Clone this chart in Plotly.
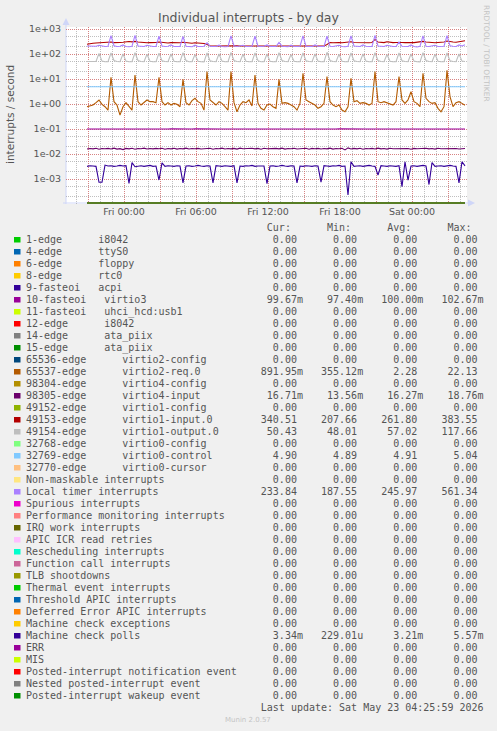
import pandas as pd
import plotly.graph_objects as go

# ---------------- data ----------------
TIMES = [t.strftime("%Y-%m-%d %H:%M") for t in
         pd.date_range("2026-05-21 20:55", periods=127, freq="15min")]
ZERO_TIMES = ["2026-05-21 20:55", "2026-05-23 04:25"]
ZERO_VALUES = [0.0, 0.0]

VIRTIO3 = [
    0.1000, 0.0995, 0.1002, 0.0998, 0.1010, 0.0999, 0.0996, 0.1001,
    0.1005, 0.0998, 0.1000, 0.0994, 0.1008, 0.0999, 0.1001, 0.0997,
    0.1006, 0.0999, 0.1002, 0.0996, 0.1009, 0.1000, 0.0998, 0.1001,
    0.1004, 0.0997, 0.1000, 0.0995, 0.1010, 0.0999, 0.1002, 0.0998,
    0.1005, 0.0998, 0.1001, 0.0996, 0.1008, 0.1000, 0.0997, 0.1000,
    0.1004, 0.0999, 0.1001, 0.0995, 0.1009, 0.0998, 0.1002, 0.0999,
    0.1006, 0.0997, 0.1000, 0.0996, 0.1010, 0.0999, 0.1001, 0.0998,
    0.1005, 0.0999, 0.1002, 0.0995, 0.1008, 0.1000, 0.0998, 0.1001,
    0.1004, 0.0998, 0.1000, 0.0996, 0.1009, 0.0999, 0.1002, 0.0997,
    0.1006, 0.0999, 0.1001, 0.0995, 0.1010, 0.0998, 0.1000, 0.0999,
    0.1005, 0.0997, 0.1002, 0.0996, 0.1008, 0.1000, 0.0998, 0.1001,
    0.1004, 0.0999, 0.1000, 0.0995, 0.1009, 0.0999, 0.1002, 0.0998,
    0.1006, 0.0998, 0.1001, 0.0996, 0.1010, 0.1000, 0.0997, 0.1000,
    0.1005, 0.0999, 0.1002, 0.0995, 0.1008, 0.0998, 0.1001, 0.0999,
    0.1004, 0.0997, 0.1000, 0.0996, 0.1009, 0.1000, 0.0998, 0.1001,
    0.1006, 0.0999, 0.1002, 0.0995, 0.1027, 0.0999, 0.09967,
]

VIRTIO2_REQ0 = [
    0.78, 0.83, 0.91, 1.13, 1.45, 0.97, 0.78, 0.57,
    11.7, 1.24, 0.91, 0.36, 0.78, 1.13, 0.83, 0.57,
    14.4, 1.24, 0.91, 1.13, 1.45, 1.24, 1.24, 1.13,
    11.7, 1.24, 0.91, 1.13, 0.91, 1.06, 0.97, 0.78,
    9.7, 1.13, 0.91, 1.36, 1.69, 1.24, 1.06, 0.57,
    19.7, 1.45, 1.13, 0.91, 1.24, 1.06, 0.78, 0.57,
    19.7, 1.13, 0.49, 0.91, 1.24, 1.13, 1.45, 0.83,
    14.4, 1.06, 0.67, 0.57, 0.91, 1.00, 0.78, 0.67,
    9.7, 1.06, 1.13, 1.06, 0.91, 0.78, 0.57, 1.06,
    16.9, 1.45, 1.24, 1.06, 0.91, 0.67, 0.78, 1.06,
    12.4, 1.24, 0.91, 0.78, 0.91, 0.57, 0.49, 0.78,
    10.6, 1.24, 1.36, 1.06, 1.13, 1.06, 0.91, 1.06,
    19.7, 1.24, 1.13, 1.24, 1.13, 1.06, 0.91, 1.24,
    12.4, 1.45, 1.06, 1.45, 3.10, 1.24, 1.06, 0.78,
    16.9, 1.69, 1.24, 1.06, 1.13, 0.67, 0.49, 0.78,
    22.13, 1.97, 0.78, 1.13, 1.24, 1.06, 0.892,
]

VIRTIO4_INPUT = [
    0.0158, 0.0166, 0.0160, 0.0170, 0.0155, 0.0165, 0.0162, 0.0168,
    0.0159, 0.0171, 0.0157, 0.0164, 0.0150, 0.0167, 0.0161, 0.0169,
    0.0156, 0.0166, 0.0163, 0.0172, 0.0158, 0.0165, 0.0160, 0.0168,
    0.0162, 0.0170, 0.0155, 0.0166, 0.0161, 0.0169, 0.0157, 0.0165,
    0.0160, 0.0171, 0.0158, 0.0167, 0.0163, 0.0168, 0.0159, 0.0164,
    0.0161, 0.0170, 0.0156, 0.0166, 0.0162, 0.0172, 0.0158, 0.0165,
    0.0160, 0.0168, 0.0157, 0.0171, 0.0163, 0.0166, 0.0159, 0.0169,
    0.0161, 0.0167, 0.0155, 0.0170, 0.0162, 0.0165, 0.0158, 0.0168,
    0.0160, 0.0172, 0.0157, 0.0166, 0.0163, 0.0169, 0.0159, 0.0164,
    0.0161, 0.0170, 0.0156, 0.0167, 0.0162, 0.0168, 0.0158, 0.0165,
    0.0160, 0.0171, 0.0157, 0.0166, 0.0163, 0.0169, 0.0145, 0.0176,
    0.0159, 0.0167, 0.0161, 0.0170, 0.0156, 0.0165, 0.0162, 0.0168,
    0.0158, 0.0171, 0.0160, 0.0166, 0.0157, 0.0169, 0.0163, 0.0165,
    0.0159, 0.0170, 0.0161, 0.0167, 0.0156, 0.0168, 0.0162, 0.0165,
    0.0158, 0.0171, 0.0160, 0.0166, 0.0157, 0.0169, 0.0163, 0.0165,
    0.0159, 0.0170, 0.0161, 0.0167, 0.0158, 0.0168, 0.01671,
]

VIRTIO1_INPUT = [
    245, 265, 270, 275, 280, 270, 275, 280,
    300, 285, 280, 290, 295, 310, 315, 305,
    320, 300, 290, 285, 280, 285, 280, 290,
    300, 285, 280, 275, 285, 280, 270, 280,
    295, 280, 275, 270, 280, 275, 270, 265,
    240, 215, 210, 212, 210, 212, 210, 212,
    215, 210, 212, 210, 210, 212, 210, 210,
    215, 210, 210, 212, 210, 210, 212, 210,
    212, 210, 210, 210, 212, 210, 210, 210,
    215, 210, 212, 210, 210, 210, 212, 210,
    240, 285, 280, 290, 285, 280, 285, 290,
    310, 290, 285, 280, 290, 285, 280, 290,
    383, 300, 290, 285, 310, 295, 285, 290,
    300, 290, 285, 295, 290, 285, 290, 295,
    320, 300, 290, 285, 280, 290, 295, 300,
    330, 310, 300, 295, 305, 310, 340.51,
]

VIRTIO1_OUTPUT = [
    50, 49, 49, 50,
    105, 52, 49, 49,
    110, 55, 50, 49,
    100, 52, 49, 49,
    112, 55, 50, 49,
    98, 51, 49, 49,
    108, 54, 50, 49,
    100, 51, 49, 49,
    112, 55, 49, 49,
    96, 51, 49, 48.5,
    110, 54, 50, 49,
    100, 52, 49, 49,
    115, 55, 50, 49,
    98, 51, 49, 49,
    110, 54, 49, 49,
    100, 51, 49, 49,
    112, 55, 50, 49,
    96, 51, 49, 49,
    110, 54, 50, 49,
    100, 52, 49, 49,
    117, 55, 50, 49,
    98, 51, 49, 49,
    110, 54, 50, 49,
    100, 52, 49, 49,
    112, 55, 50, 49,
    96, 51, 49, 49,
    110, 54, 50, 49,
    100, 52, 49, 48.5,
    112, 55, 50, 49,
    98, 51, 49, 49,
    110, 54, 50, 49,
    100, 52, 50.43,
]

VIRTIO0_CONTROL = [
    4.90, 4.90, 4.91, 4.90, 4.90, 4.90, 4.91, 4.90,
    4.91, 4.90, 4.90, 4.90, 4.91, 4.90, 4.90, 4.90,
    4.91, 4.90, 4.90, 4.91, 4.90, 4.90, 4.90, 4.90,
    4.91, 4.90, 4.90, 4.90, 4.90, 4.91, 4.90, 4.90,
    4.91, 4.90, 4.90, 4.90, 4.91, 4.90, 4.90, 4.90,
    4.92, 4.90, 4.90, 4.91, 4.90, 4.90, 4.90, 4.90,
    4.92, 4.90, 4.90, 4.90, 4.91, 4.90, 4.90, 4.90,
    4.91, 4.90, 4.90, 4.90, 4.90, 4.91, 4.90, 4.90,
    4.91, 4.90, 4.90, 4.90, 4.91, 4.90, 4.90, 4.90,
    4.92, 4.90, 4.91, 4.90, 4.90, 4.90, 4.90, 4.90,
    4.91, 4.90, 4.90, 4.90, 4.91, 4.90, 4.90, 4.90,
    4.91, 4.90, 4.90, 4.91, 4.90, 4.90, 4.90, 4.90,
    5.04, 4.91, 4.90, 4.90, 4.90, 4.91, 4.90, 4.90,
    4.91, 4.90, 4.90, 4.90, 4.91, 4.90, 4.90, 4.90,
    4.92, 4.90, 4.90, 4.91, 4.90, 4.90, 4.90, 4.90,
    4.91, 4.90, 4.90, 4.90, 4.91, 4.90, 4.90,
]

LOCAL_TIMER = [
    210, 205, 200, 205, 225, 205, 200, 205,
    540, 215, 200, 205, 230, 200, 195, 205,
    555, 210, 205, 200, 225, 205, 200, 200,
    520, 210, 200, 205, 230, 200, 205, 200,
    510, 205, 200, 195, 225, 200, 200, 205,
    280, 205, 200, 200, 225, 200, 195, 200,
    530, 210, 200, 205, 225, 200, 200, 205,
    520, 205, 200, 205, 230, 200, 200, 200,
    290, 205, 200, 195, 225, 200, 200, 205,
    530, 205, 200, 200, 230, 205, 200, 200,
    520, 205, 200, 205, 225, 200, 195, 205,
    530, 210, 200, 200, 230, 205, 200, 200,
    561, 210, 205, 200, 225, 205, 200, 200,
    300, 205, 200, 200, 230, 200, 190, 205,
    530, 205, 200, 205, 225, 200, 200, 205,
    540, 215, 205, 200, 230, 210, 233.84,
]

MC_POLLS = [
    0.0032, 0.0034, 0.0033, 0.0032, 0.00074, 0.00074, 0.0036, 0.0033,
    0.0034, 0.0032, 0.0033, 0.0035, 0.0033, 0.0034, 0.00067, 0.0045,
    0.0031, 0.0033, 0.0034, 0.0032, 0.0033, 0.0035, 0.0032, 0.0033,
    0.00091, 0.0044, 0.0032, 0.0034, 0.0033, 0.0032, 0.0034, 0.0033,
    0.0007, 0.0033, 0.0034, 0.0032, 0.0033, 0.0035, 0.0033, 0.0032,
    0.0034, 0.0033, 0.0007, 0.0034, 0.0033, 0.0032, 0.0034, 0.0033,
    0.0032, 0.0034, 0.0007, 0.0033, 0.0032, 0.0034, 0.0033, 0.0035,
    0.0032, 0.0033, 0.0034, 0.0033, 0.00065, 0.0033, 0.0034, 0.0032,
    0.0033, 0.0035, 0.0033, 0.0032, 0.0034, 0.0033, 0.0007, 0.0033,
    0.0032, 0.0034, 0.0033, 0.0032, 0.0034, 0.0033, 0.00075, 0.0034,
    0.0033, 0.0032, 0.0034, 0.0033, 0.0035, 0.0032, 0.0033, 0.000229,
    0.0049, 0.0032, 0.0033, 0.0034, 0.0032, 0.0033, 0.0035, 0.0033,
    0.0032, 0.00145, 0.0034, 0.0033, 0.0032, 0.0034, 0.0033, 0.0032,
    0.0034, 0.00049, 0.0049, 0.0009, 0.0033, 0.0034, 0.0032, 0.0033,
    0.0035, 0.0033, 0.0006, 0.0045, 0.0032, 0.0033, 0.0034, 0.0032,
    0.0033, 0.0035, 0.0033, 0.0032, 0.0007, 0.0049, 0.00334,
]

LABELS = [
    "1-edge      i8042", "4-edge      ttyS0", "6-edge      floppy",
    "8-edge      rtc0", "9-fasteoi   acpi", "10-fasteoi   virtio3",
    "11-fasteoi   uhci_hcd:usb1", "12-edge      i8042",
    "14-edge      ata_piix", "15-edge      ata_piix",
    "65536-edge      virtio2-config", "65537-edge      virtio2-req.0",
    "98304-edge      virtio4-config", "98305-edge      virtio4-input",
    "49152-edge      virtio1-config", "49153-edge      virtio1-input.0",
    "49154-edge      virtio1-output.0", "32768-edge      virtio0-config",
    "32769-edge      virtio0-control", "32770-edge      virtio0-cursor",
    "Non-maskable interrupts", "Local timer interrupts",
    "Spurious interrupts", "Performance monitoring interrupts",
    "IRQ work interrupts", "APIC ICR read retries",
    "Rescheduling interrupts", "Function call interrupts",
    "TLB shootdowns", "Thermal event interrupts",
    "Threshold APIC interrupts", "Deferred Error APIC interrupts",
    "Machine check exceptions", "Machine check polls", "ERR", "MIS",
    "Posted-interrupt notification event", "Nested posted-interrupt event",
    "Posted-interrupt wakeup event",
]
COLORS = [
    "#00CC00", "#0066B3", "#FF8000", "#FFCC00", "#330099", "#990099",
    "#CCFF00", "#FF0000", "#808080", "#008F00", "#00487D", "#B35A00",
    "#B38F00", "#6B006B", "#8FB300", "#B30000", "#BEBEBE", "#80FF80",
    "#80C9FF", "#FFC080", "#FFE680", "#AA80FF", "#EE00CC", "#FF8080",
    "#666600", "#FFBFFF", "#00FFCC", "#CC6699", "#999900", "#00CC00",
    "#0066B3", "#FF8000", "#FFCC00", "#330099", "#990099", "#CCFF00",
    "#FF0000", "#808080", "#008F00",
]
CUR = [0, 0, 0, 0, 0, 0.09967, 0, 0, 0, 0, 0, 0.89195, 0, 0.01671, 0,
       340.51, 50.43, 0, 4.90, 0, 0, 233.84, 0, 0, 0, 0, 0, 0, 0, 0,
       0, 0, 0, 0.00334, 0, 0, 0, 0, 0]
MIN = [0, 0, 0, 0, 0, 0.0974, 0, 0, 0, 0, 0, 0.35512, 0, 0.01356, 0,
       207.66, 48.01, 0, 4.89, 0, 0, 187.55, 0, 0, 0, 0, 0, 0, 0, 0,
       0, 0, 0, 0.00022901, 0, 0, 0, 0, 0]
AVG = [0, 0, 0, 0, 0, 0.1, 0, 0, 0, 0, 0, 2.28, 0, 0.01627, 0,
       261.80, 57.02, 0, 4.91, 0, 0, 245.97, 0, 0, 0, 0, 0, 0, 0, 0,
       0, 0, 0, 0.00321, 0, 0, 0, 0, 0]
MAX = [0, 0, 0, 0, 0, 0.10267, 0, 0, 0, 0, 0, 22.13, 0, 0.01876, 0,
       383.55, 117.66, 0, 5.04, 0, 0, 561.34, 0, 0, 0, 0, 0, 0, 0, 0,
       0, 0, 0, 0.00557, 0, 0, 0, 0, 0]

SERIES = {5: VIRTIO3, 11: VIRTIO2_REQ0, 13: VIRTIO4_INPUT, 15: VIRTIO1_INPUT,
          16: VIRTIO1_OUTPUT, 18: VIRTIO0_CONTROL, 21: LOCAL_TIMER,
          33: MC_POLLS}

Y_TICKS = [1e-3, 1e-2, 1e-1, 1, 10, 100, 1000]
Y_TICKTEXT = ["1e-03", "1e-02", "1e-01", "1e+00", "1e+01", "1e+02", "1e+03"]
X_TICKS = ["2026-05-21 21:00", "2026-05-22 00:00", "2026-05-22 03:00",
           "2026-05-22 06:00", "2026-05-22 09:00", "2026-05-22 12:00",
           "2026-05-22 15:00", "2026-05-22 18:00", "2026-05-22 21:00",
           "2026-05-23 00:00", "2026-05-23 03:00"]
X_TICKTEXT = ["", "Fri 00:00", "", "Fri 06:00", "", "Fri 12:00", "",
              "Fri 18:00", "", "Sat 00:00", ""]

TITLE = "Individual interrupts - by day"
Y_TITLE = "interrupts / second"
LAST_UPDATE = "Last update: Sat May 23 04:25:59 2026"

# ---------------- geometry (pixels) ----------------
W, H = 497, 731
PL, PR, PT, PB = 66, 467, 27, 204
Y_FLOOR = 1.096e-4   # rrdtool draws zero values on the bottom edge


def fx(p):
    return (p - PL) / (PR - PL)


def fy(p):
    return (PB - p) / (PB - PT)


def si(v):
    if v == 0:
        return "0.00 "
    a = abs(v)
    if a >= 1000:
        return f"{v / 1000:.2f}k"
    if a >= 1:
        return f"{v:.2f} "
    if a >= 1e-3:
        return f"{v * 1e3:.2f}m"
    return f"{v * 1e6:.2f}u"


fig = go.Figure()
for i, lab in enumerate(LABELS):
    if i in SERIES:
        xs, vals = TIMES, SERIES[i]
    else:
        xs, vals = ZERO_TIMES, ZERO_VALUES
    ys = [v if v > 0 else Y_FLOOR for v in vals]
    fig.add_trace(go.Scatter(x=xs, y=ys, mode="lines", name=lab,
                             line=dict(color=COLORS[i], width=1.1),
                             hoverinfo="skip", showlegend=False))

GRID = "rgba(150,150,150,0.6)"
MGRID = "rgba(230,90,90,0.6)"
FONT = "#555555"
AXIS = "#CFD6F8"

fig.update_layout(
    width=W, height=H,
    margin=dict(l=PL, r=W - PR, t=PT, b=H - PB, pad=0),
    paper_bgcolor="#F0F0F0", plot_bgcolor="#FFFFFF",
    showlegend=False,
    font=dict(family="DejaVu Sans", color=FONT),
    xaxis=dict(type="date",
               range=["2026-05-21 19:10", "2026-05-23 04:35"],
               tickmode="array", tickvals=X_TICKS, ticktext=X_TICKTEXT,
               showgrid=True, gridcolor=MGRID, griddash="1px,1px",
               gridwidth=1, zeroline=False, showline=False, ticks="",
               tickfont=dict(size=9.5, color=FONT, family="DejaVu Sans"),
               minor=dict(dtick=3600000, tick0="2026-05-21 00:00",
                          showgrid=True, gridcolor=GRID,
                          griddash="1px,1px", gridwidth=1),
               automargin=False, fixedrange=True),
    yaxis=dict(type="log", range=[-4.0, 3.08],
               tickmode="array", tickvals=Y_TICKS, ticktext=Y_TICKTEXT,
               showgrid=True, gridcolor=MGRID, griddash="1px,1px",
               gridwidth=1, zeroline=False, showline=False, ticks="",
               ticklabelstandoff=4,
               tickfont=dict(size=9.5, color=FONT, family="DejaVu Sans"),
               minor=dict(showgrid=True, gridcolor=GRID,
                          griddash="1px,1px", gridwidth=1),
               automargin=False, fixedrange=True),
)

shapes = []
# axes with arrows
shapes.append(dict(type="line", xref="paper", yref="paper",
                   x0=fx(PL), x1=fx(PL), y0=fy(PB), y1=fy(22),
                   line=dict(color=AXIS, width=1), layer="between"))
shapes.append(dict(type="line", xref="paper", yref="paper",
                   x0=fx(PL - 3), x1=fx(470), y0=fy(203), y1=fy(203),
                   line=dict(color=AXIS, width=1), layer="between"))
shapes.append(dict(type="path", xref="paper", yref="paper",
                   path=f"M {fx(62.5)},{fy(25)} L {fx(66)},{fy(18)} L {fx(69.5)},{fy(25)} Z",
                   fillcolor=AXIS, line=dict(width=0)))
shapes.append(dict(type="path", xref="paper", yref="paper",
                   path=f"M {fx(468)},{fy(199.5)} L {fx(475)},{fy(203)} L {fx(468)},{fy(206.5)} Z",
                   fillcolor=AXIS, line=dict(width=0)))

annotations = []
annotations.append(dict(text=TITLE, xref="paper", yref="paper",
                        x=fx(248.5), y=fy(17), showarrow=False,
                        xanchor="center", yanchor="middle",
                        font=dict(size=12.5, color=FONT, family="DejaVu Sans")))
annotations.append(dict(text=Y_TITLE, xref="paper", yref="paper",
                        x=fx(10), y=fy(115), showarrow=False, textangle=-90,
                        xanchor="center", yanchor="middle",
                        font=dict(size=10.5, color=FONT, family="DejaVu Sans")))
annotations.append(dict(text="RRDTOOL / TOBI OETIKER", xref="paper", yref="paper",
                        x=fx(487), y=fy(53), showarrow=False, textangle=90,
                        xanchor="center", yanchor="middle",
                        font=dict(size=7.5, color="#C4C4C4", family="DejaVu Sans")))
annotations.append(dict(text="Munin 2.0.57", xref="paper", yref="paper",
                        x=fx(248), y=fy(720), showarrow=False,
                        xanchor="center", yanchor="middle",
                        font=dict(size=7, color="#C4C4C4", family="DejaVu Sans")))

NB = "\u00a0"
ROW0, ROWH, TXT_X = 239.5, 12, 26
mono = dict(size=10, color=FONT, family="DejaVu Sans Mono")


def row_text(s):
    return s.replace(" ", NB)


header = " " * 40 + "Cur:" + " " * 6 + "Min:" + " " * 6 + "Avg:" + " " * 6 + "Max:"
annotations.append(dict(text=row_text(header), xref="paper", yref="paper",
                        x=fx(TXT_X), y=fy(ROW0 - ROWH), showarrow=False,
                        xanchor="left", yanchor="middle", borderpad=0,
                        borderwidth=0, font=mono))
for r, lab in enumerate(LABELS):
    yc = ROW0 + ROWH * r
    line = (lab.ljust(39) + si(CUR[r]).rjust(7) + si(MIN[r]).rjust(10)
            + si(AVG[r]).rjust(10) + si(MAX[r]).rjust(10))
    annotations.append(dict(text=row_text(line), xref="paper", yref="paper",
                            x=fx(TXT_X), y=fy(yc), showarrow=False,
                            xanchor="left", yanchor="middle", borderpad=0,
                            borderwidth=0, font=mono))
    shapes.append(dict(type="rect", xref="paper", yref="paper",
                       x0=fx(14), x1=fx(20.5), y0=fy(yc + 3), y1=fy(yc - 2.5),
                       fillcolor=COLORS[r], line=dict(width=0)))
last = LAST_UPDATE.rjust(76)
annotations.append(dict(text=row_text(last), xref="paper", yref="paper",
                        x=fx(TXT_X), y=fy(ROW0 + ROWH * len(LABELS)),
                        showarrow=False, xanchor="left", yanchor="middle",
                        borderpad=0, borderwidth=0, font=mono))

fig.update_layout(shapes=shapes, annotations=annotations)
fig.write_html(
    "out.html",
    config={"displayModeBar": False, "staticPlot": True},
    post_script="document.body.style.margin='0';"
                "document.body.style.overflow='hidden';",
)
